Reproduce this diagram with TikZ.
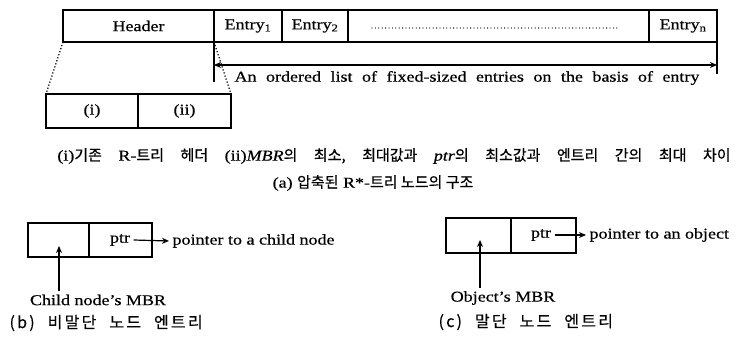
\documentclass[tikz,border=0pt]{standalone}
\usepackage{fontspec}
\setmainfont[FakeStretch=1.2, FakeBold=0.5]{Liberation Serif}
\newfontfamily\krfont[FakeBold=0.5]{Noto Sans CJK KR}
\newfontfamily\krwide[FakeBold=0.5, LetterSpace=14]{Noto Sans CJK KR}
\usetikzlibrary{positioning}
\usetikzlibrary{arrows.meta}

\begin{document}
\begin{tikzpicture}[x=1pt, y=-1pt,
				cell/.style={draw, rectangle, line width=1.3pt, inner sep=0pt, outer sep=0pt, minimum height=32pt},
				tip/.style={>={Stealth[length=7pt, width=6pt]}, line width=1.2pt},
				capt/.style={anchor=west, font=\krwide\fontsize{16}{19}\selectfont},
				every node/.style={font=\fontsize{15}{18}\selectfont}]
				\useasboundingbox (0,0) rectangle (755,345);
				
				% compressed node: header + entries
				\node[cell, minimum width=151pt](hdr) at (138.5, 26) {Header};
				\node[cell, minimum width=68pt](ent1) at (248, 26) {Entry\textsubscript{1}};
				\node[cell, minimum width=66pt](ent2) at (315, 26) {Entry\textsubscript{2}};
				\node[cell, minimum width=301pt](dots) at (498.5, 26) {};
				\node[cell, minimum width=68pt](entn) at (683, 26) {Entry\textsubscript{n}};
				\draw[line width=1.3pt, line cap=round, dash pattern=on 0pt off 3.4pt] (372, 28) -- (618, 28);
				
				% range of the entries
				\coordinate (lstl) at (214, 65);
				\coordinate (lstr) at (717, 65);
				\draw[line width=1.2pt] (ent1.south west) -- (214, 82);
				\draw[line width=1.2pt] (entn.south east) -- (717, 74);
				\draw[<->, tip] (lstl) -- (lstr);
				\node(lsttxt) at (467, 78) {\spaceskip=9.5pt An ordered list of fixed-sized entries on the basis of entry};
				
				% header detail
				\node[cell, minimum width=92pt, minimum height=34pt](sub1) at (92, 111) {(i)};
				\node[cell, minimum width=93pt, minimum height=34pt](sub2) at (184.5, 111) {(ii)};
				\draw[dotted, line width=1.2pt] (hdr.south west) -- (sub1.north west);
				\draw[dotted, line width=1.2pt] (hdr.south east) -- (sub2.north east);
				
				\node(desc) at (394, 156) {\spaceskip=16.5pt (i){\krfont 기존} R-{\krfont 트리 헤더} (ii)\textit{MBR}{\krfont 의 최소, 최대값과} \textit{ptr}{\krfont 의 최소값과 엔트리 간의 최대 차이}};
				\node(capa) at (373, 183) {(a) {\krfont 압축된} R*-{\krfont 트리 노드의 구조}};
				
				% non-leaf entry
				\node[cell, minimum width=61pt, minimum height=34pt](mbrb) at (58.5, 240) {};
				\node[cell, minimum width=63pt, minimum height=34pt](ptrb) at (120.5, 240) {};
				\node(ptrtb) at (120, 240) {ptr};
				\node[anchor=west](ptrtxtb) at (169, 241) {pointer to a child node};
				\draw[->, tip] (ptrtb.east) -- (ptrtxtb.west);
				\node(mbrtxtb) at (98, 300) {Child node's MBR};
				\coordinate (mbrptb) at (59, 246);
				\draw[->, tip] (mbrptb |- mbrtxtb.north) -- (mbrptb);
				\node[capt](capb) at (6, 323) {\spaceskip=13pt (b) 비말단 노드 엔트리};
				
				% leaf entry
				\node[cell, minimum width=65pt, minimum height=35pt](mbrc) at (478.5, 235.5) {};
				\node[cell, minimum width=65pt, minimum height=35pt](ptrc) at (543.5, 235.5) {};
				\node(ptrtc) at (541, 235) {ptr};
				\node[anchor=west](ptrtxtc) at (586, 235) {pointer to an object};
				\draw[->, tip] (ptrtc.east) -- (ptrtxtc.west);
				\node(mbrtxtc) at (503, 298) {Object's MBR};
				\coordinate (mbrptc) at (480, 240);
				\draw[->, tip] (mbrptc |- mbrtxtc.north) -- (mbrptc);
				\node[capt](capc) at (435, 322) {\spaceskip=13pt (c) 말단 노드 엔트리};
			\end{tikzpicture}
\end{document}
